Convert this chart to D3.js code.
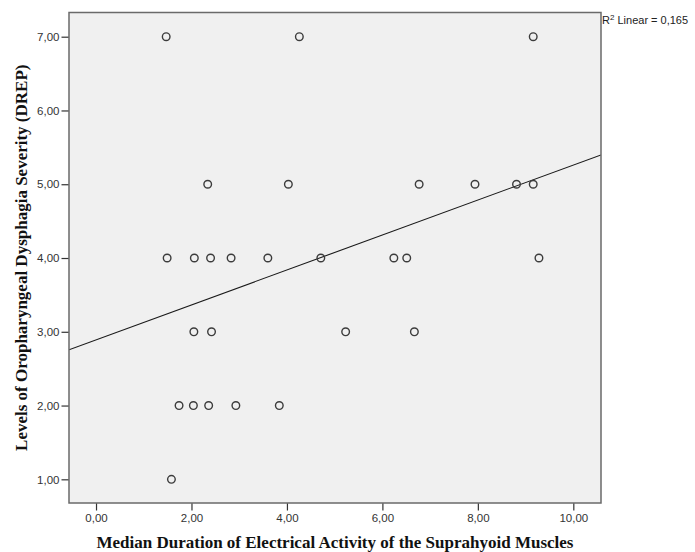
<!DOCTYPE html>
<html>
<head>
<meta charset="utf-8">
<script src="https://cdn.jsdelivr.net/npm/d3@7"></script>
<style>
  html, body { margin: 0; padding: 0; background: #fff; }
  svg { display: block; }
</style>
</head>
<body>
<svg id="chart" width="695" height="552"></svg>
<script>
// ---- data ----
const durationX = [1.47, 4.26, 9.16,
                   2.34, 4.03, 6.77, 7.94, 8.81, 9.16,
                   1.49, 2.06, 2.40, 2.83, 3.60, 4.71, 6.24, 6.51, 9.28,
                   2.05, 2.42, 5.23, 6.67,
                   1.74, 2.04, 2.36, 2.93, 3.84,
                   1.58];
const severityY = [7, 7, 7,
                   5, 5, 5, 5, 5, 5,
                   4, 4, 4, 4, 4, 4, 4, 4, 4,
                   3, 3, 3, 3,
                   2, 2, 2, 2, 2,
                   1];
const xTicks = [0, 2, 4, 6, 8, 10];
const yTicks = [1, 2, 3, 4, 5, 6, 7];
const fitIntercept = 2.89;
const fitSlope = 0.237;
const r2Value = "0,165";
const xDomain = [-0.566, 10.58];
const yDomain = [0.679, 7.328];

(function () {
// ---- layout ----
const svg = d3.select("#chart");
const pL = 69, pR = 601, pT = 12.5, pB = 503;
const x = d3.scaleLinear().domain(xDomain).range([pL, pR]);
const y = d3.scaleLinear().domain(yDomain).range([pB, pT]);
const fmt = d => d.toFixed(2).replace(".", ",");

// plot background
svg.append("rect")
  .attr("x", pL).attr("y", pT)
  .attr("width", pR - pL).attr("height", pB - pT)
  .attr("fill", "#f0f0f0");

// fit line, clipped to plot area
svg.append("clipPath").attr("id", "clip")
  .append("rect").attr("x", pL).attr("y", pT)
  .attr("width", pR - pL).attr("height", pB - pT);

svg.append("line")
  .attr("clip-path", "url(#clip)")
  .attr("x1", x(xDomain[0])).attr("y1", y(fitIntercept + fitSlope * xDomain[0]))
  .attr("x2", x(xDomain[1])).attr("y2", y(fitIntercept + fitSlope * xDomain[1]))
  .attr("stroke", "#1a1a1a").attr("stroke-width", 1.1);

// points
svg.append("g").selectAll("circle")
  .data(durationX.map((d, i) => [d, severityY[i]]))
  .join("circle")
  .attr("cx", d => x(d[0])).attr("cy", d => y(d[1]))
  .attr("r", 3.8)
  .attr("fill", "none")
  .attr("stroke", "#3c3c3c")
  .attr("stroke-width", 1.4);

// frame
svg.append("rect")
  .attr("x", pL).attr("y", pT)
  .attr("width", pR - pL).attr("height", pB - pT)
  .attr("fill", "none").attr("stroke", "#6a6a6a").attr("stroke-width", 1.5);

// axes
const xAxis = d3.axisBottom(x).tickValues(xTicks).tickFormat(fmt).tickSize(7).tickPadding(3);
const yAxis = d3.axisLeft(y).tickValues(yTicks).tickFormat(fmt).tickSize(7).tickPadding(2);

const gx = svg.append("g").attr("transform", `translate(0,${pB + 0.5})`).call(xAxis);
const gy = svg.append("g").attr("transform", `translate(${pL - 0.5},0)`).call(yAxis);
[gx, gy].forEach(g => {
  g.select(".domain").remove();
  g.selectAll(".tick line").attr("stroke", "#333").attr("stroke-width", 1.2);
  g.selectAll(".tick text")
    .attr("fill", "#333")
    .style("font-family", "Arial, 'Liberation Sans', sans-serif")
    .style("font-size", "11.5px");
});

// axis titles
svg.append("text")
  .attr("x", (pL + pR) / 2).attr("y", 548)
  .attr("text-anchor", "middle")
  .style("font-family", "'Times New Roman', 'Liberation Serif', serif")
  .style("font-weight", "bold").style("font-size", "17px")
  .attr("fill", "#111")
  .text("Median Duration of Electrical Activity of the Suprahyoid Muscles");

svg.append("text")
  .attr("transform", `translate(27,${(pT + pB) / 2}) rotate(-90)`)
  .attr("text-anchor", "middle")
  .style("font-family", "'Times New Roman', 'Liberation Serif', serif")
  .style("font-weight", "bold").style("font-size", "17px")
  .attr("fill", "#111")
  .text("Levels of Oropharyngeal Dysphagia Severity (DREP)");

// R2 label
const r2 = svg.append("text")
  .attr("x", pR + 1).attr("y", 24)
  .style("font-family", "Arial, 'Liberation Sans', sans-serif")
  .style("font-size", "11px")
  .attr("fill", "#222");
r2.append("tspan").text("R");
r2.append("tspan").attr("dy", -4).style("font-size", "8px").text("2");
r2.append("tspan").attr("dy", 4).text(" Linear = " + r2Value);
})();
</script>
</body>
</html>
